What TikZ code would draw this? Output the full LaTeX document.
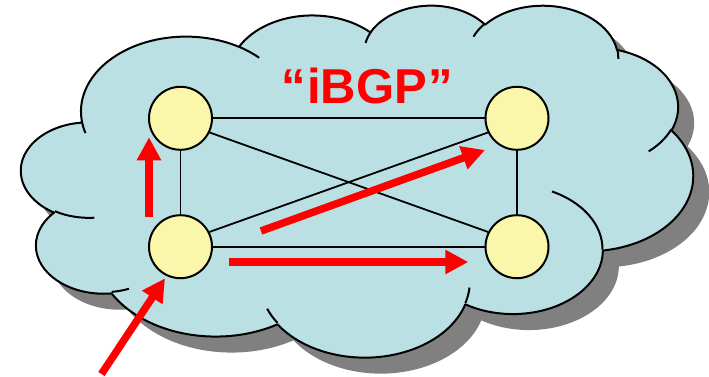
\documentclass[tikz,border=0pt]{standalone}
\usepackage{fontspec}
\newfontfamily\lsans{Liberation Sans}
\usetikzlibrary{arrows.meta}
\definecolor{cloudfill}{RGB}{187,224,227}
\definecolor{nodefill}{RGB}{250,247,170}
\definecolor{shadowgray}{RGB}{128,128,128}
\definecolor{arrred}{RGB}{255,0,0}
\tikzset{
  oa/.style n args={4}{insert path={arc[start angle={atan2((#1)*sin(#3),(#2)*cos(#3))},
     delta angle={mod(atan2((#1)*sin((#3)+(#4)),(#2)*cos((#3)+(#4)))-atan2((#1)*sin(#3),(#2)*cos(#3))+720,360)},
     x radius=#1pt, y radius=#2pt]}},
  cloudtf/.style={shift={(21.3pt,-4.5pt)}, xscale=1.5548, yscale=-0.8145},
  cloudline/.style={draw=black, line width=2pt, line join=round},
  router/.style={circle, draw=black, line width=2pt, fill=nodefill, minimum size=63pt, inner sep=0pt},
  link/.style={draw=black, line width=1.8pt},
  redarr/.style={draw=arrred, line width=7.5pt, -{Triangle[length=23pt,width=23pt]}},
  titlefont/.style={font=\lsans\bfseries\fontsize{49}{54}\selectfont, text=arrred}
}
\begin{document}
\begin{tikzpicture}[x=1pt,y=-1pt]
\useasboundingbox (0,0) rectangle (709,377);
% shadow
\fill[shadowgray, shift={(16pt,-16pt)}, cloudtf] (39.00pt,143.70pt)
  [oa={67.53}{91.90}{-190.4875}{123.7805}]
  [oa={53.33}{72.67}{-144.1024}{89.9452}]
  [oa={43.65}{59.45}{-145.8079}{99.7230}]
  [oa={48.57}{65.95}{-130.9861}{117.2417}]
  [oa={53.33}{72.73}{-78.7089}{109.0269}]
  [oa={67.75}{92.20}{-46.2673}{130.2690}]
  [oa={57.85}{78.67}{0.6250}{114.0333}]
  [oa={67.52}{92.15}{22.4516}{115.1726}]
  [oa={77.20}{105.43}{66.2426}{75.7110}]
  [oa={43.60}{59.18}{-274.9421}{146.7356}]
  [oa={43.45}{59.45}{-246.8285}{152.5189}] -- cycle;
% cloud
\filldraw[cloudline, fill=cloudfill, cloudtf] (39.00pt,143.70pt)
  [oa={67.53}{91.90}{-190.4875}{123.7805}]
  [oa={53.33}{72.67}{-144.1024}{89.9452}]
  [oa={43.65}{59.45}{-145.8079}{99.7230}]
  [oa={48.57}{65.95}{-130.9861}{117.2417}]
  [oa={53.33}{72.73}{-78.7089}{109.0269}]
  [oa={67.75}{92.20}{-46.2673}{130.2690}]
  [oa={57.85}{78.67}{0.6250}{114.0333}]
  [oa={67.52}{92.15}{22.4516}{115.1726}]
  [oa={77.20}{105.43}{66.2426}{75.7110}]
  [oa={43.60}{59.18}{-274.9421}{146.7356}]
  [oa={43.45}{59.45}{-246.8285}{152.5189}] -- cycle;
% inner arcs of the cloud
\draw[cloudline, cloudtf]
  (46.93pt,261.77pt) [oa={43.45}{59.45}{86.742}{26.4295}]
  (69.28pt,348.99pt) [oa={43.60}{59.18}{73.6105}{11.4475}]
  (164.78pt,390.90pt) [oa={67.52}{92.15}{137.6242}{14.0811}]
  (288.27pt,347.51pt) [oa={67.52}{92.15}{6.4533}{15.9984}]
  (341.29pt,229.54pt) [oa={57.85}{78.67}{-70.2924}{70.9174}]
  (417.98pt,153.54pt) [oa={53.33}{72.73}{30.3180}{27.7515}]
  (383.24pt,54.26pt) [oa={48.57}{65.95}{-13.7443}{14.8589}]
  (290.78pt,39.52pt) [oa={48.57}{65.95}{-149.1815}{18.1954}]
  (221.41pt,47.20pt) [oa={43.65}{59.45}{-163.4943}{17.6864}]
  (140.00pt,51.92pt) [oa={67.53}{91.90}{-66.7070}{12.3194}]
  (41.27pt,157.89pt) [oa={67.53}{91.90}{157.6544}{11.8582}];
% routers
\node[router] (tl) at (180.5,118.3) {};
\node[router] (tr) at (517,118.3) {};
\node[router] (bl) at (180.5,246.7) {};
\node[router] (br) at (517,246.7) {};
% links
\draw[link] (tl) -- (tr);
\draw[link] (bl) -- (br);
\draw[link] (tl) -- (bl);
\draw[link] (tr) -- (br);
\draw[link] (tl.-26) -- (br.153);
\draw[link] (bl.27) -- (tr.206);
% title
\node[titlefont, anchor=base] (title) at (367,103.5) {“\kern1.5pt iBGP\kern1.5pt”};
% red arrows
\coordinate (upS) at (149,217);
\coordinate (upE) at (149,137.3);
\coordinate (hzS) at (229,262);
\coordinate (hzE) at (468.3,262);
\coordinate (dgS) at (261,231);
\coordinate (dgE) at (485,150);
\coordinate (inS) at (101.5,374);
\coordinate (inE) at (165,278.3);
\draw[redarr] (upS) -- (upE);
\draw[redarr] (hzS) -- (hzE);
\draw[redarr] (dgS) -- (dgE);
\draw[redarr] (inS) -- (inE);
\end{tikzpicture}
\end{document}
